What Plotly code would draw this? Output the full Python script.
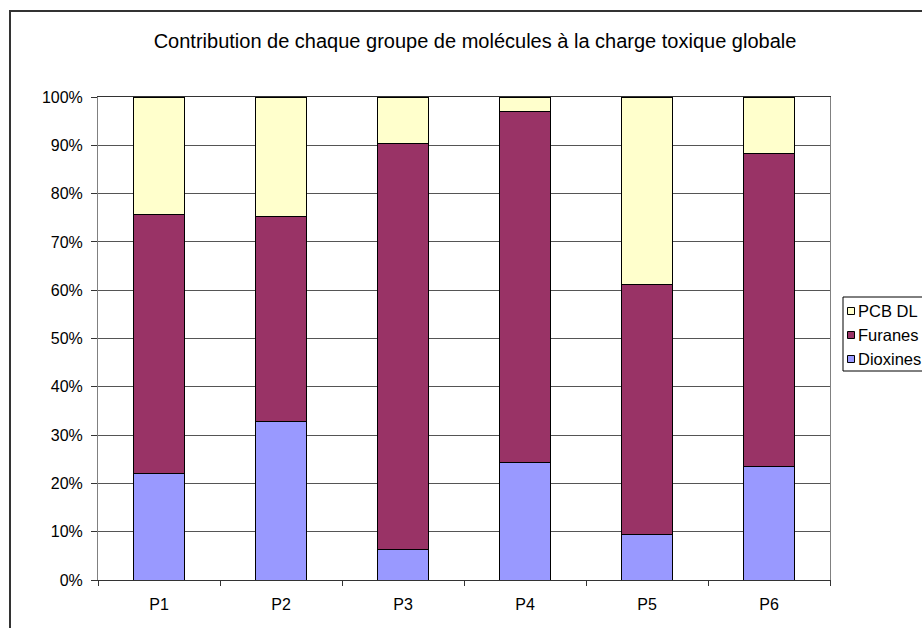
import plotly.graph_objects as go

categories = ["P1", "P2", "P3", "P4", "P5", "P6"]
series_names = ["Dioxines", "Furanes", "PCB DL"]
series_colors = ["#9999FF", "#993366", "#FFFFCC"]
dioxines = [22.1, 32.8, 6.4, 24.4, 9.4, 23.6]
furanes_top = [75.6, 75.3, 90.3, 97.1, 61.1, 88.2]
furanes = [round(t - d, 1) for t, d in zip(furanes_top, dioxines)]
pcb_dl = [round(100 - t, 1) for t in furanes_top]
series_values = [dioxines, furanes, pcb_dl]

# figure geometry (window pixels; page body margin removed below)
W, H = 922, 628
L, R, T, B = 98, 92, 97, 48
PW, PH = W - L - R, H - T - B


def px(x):
    return (x - L) / PW


def py(y):
    return 1 - (y - T) / PH


fig = go.Figure()
for name, color, vals in zip(series_names, series_colors, series_values):
    fig.add_trace(go.Bar(name=name, x=categories, y=vals,
                         marker=dict(color=color, line=dict(color="#000000", width=1))))

fig.update_layout(
    barmode="stack",
    barnorm="percent",
    bargap=0.59,
    width=W, height=H,
    margin=dict(l=L, r=R, t=T, b=B, autoexpand=False),
    paper_bgcolor="white", plot_bgcolor="white",
    font=dict(family="Liberation Sans, Arial", size=16, color="#000000"),
    title=dict(text="Contribution de chaque groupe de molécules à la charge toxique globale",
               x=475 / W, xanchor="center", y=1 - 41 / H, yanchor="middle",
               font=dict(size=20)),
    showlegend=False,
)
fig.update_yaxes(range=[0, 100], dtick=10, ticksuffix="%", showgrid=True,
                 gridcolor="#555555", gridwidth=1, showline=True, linecolor="#808080",
                 linewidth=1, mirror=True, ticks="outside", ticklen=6, tickcolor="#333333",
                 zeroline=False, tickfont=dict(size=16), ticklabelstandoff=5)
fig.update_xaxes(showline=True, linecolor="#333333", linewidth=1, mirror=True,
                 ticks="outside", ticklen=5, tickcolor="#333333", tickson="boundaries",
                 tickfont=dict(size=16), ticklabelstandoff=10)

# outer chart border (extends past the right/bottom edges like the reference)
fig.add_shape(type="rect", xref="paper", yref="paper",
              x0=px(10), x1=px(940), y0=py(650), y1=py(11),
              line=dict(color="#333333", width=2), layer="below")

# legend box (runs off the right edge like the reference)
fig.add_shape(type="rect", xref="paper", yref="paper",
              x0=px(843), x1=px(950), y0=py(371), y1=py(297),
              line=dict(color="#000000", width=1), fillcolor="white")
item_y = [359, 335, 311]  # Dioxines, Furanes, PCB DL (bottom to top)
for name, color, yc in zip(series_names, series_colors, item_y):
    fig.add_shape(type="rect", xref="paper", yref="paper",
                  x0=px(847.5), x1=px(854.5), y0=py(yc + 3.5), y1=py(yc - 3.5),
                  line=dict(color="#000000", width=1), fillcolor=color)
    fig.add_annotation(text=name, xref="paper", yref="paper", x=px(856), y=py(yc),
                       xanchor="left", yanchor="middle", showarrow=False,
                       font=dict(size=16.5))

fig.write_html("out.html",
               config={"displayModeBar": False},
               post_script="document.body.style.margin='0';"
                           "document.body.style.overflow='hidden';")
